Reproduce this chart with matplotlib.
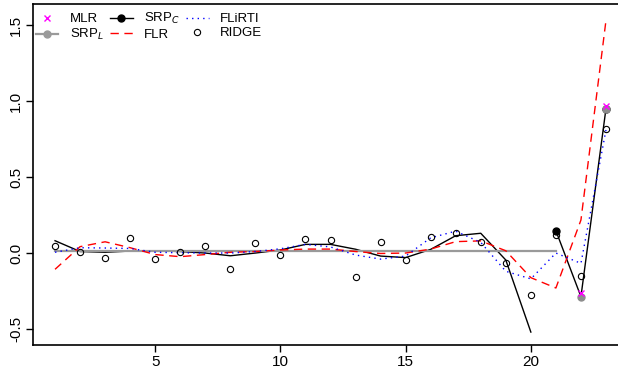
import numpy as np
import matplotlib
matplotlib.use("Agg")
import matplotlib.pyplot as plt

plt.rcParams['font.family'] = ['Liberation Sans', 'DejaVu Sans']

idx = np.arange(1, 24)

# values
mlr_x = [22, 23]
mlr = [-0.26, 0.97]

srpl_line_x = np.arange(1, 22)
srpl_line = [0.012] * 21
srpl_pts_x = [22, 23]
srpl_pts = [-0.287, 0.95]

srpc_a_x = np.arange(1, 21)
srpc_a = [0.081, 0.01, 0.005, 0.013, 0.015, 0.01, 0.0, -0.018, 0.0, 0.02,
          0.057, 0.057, 0.025, -0.02, -0.03, 0.024, 0.114, 0.13, -0.046, -0.52]
srpc_b_x = [21, 22, 23]
srpc_b = [0.147, -0.287, 0.95]

flr = [-0.107, 0.042, 0.074, 0.035, -0.01, -0.024, -0.01, 0.005, 0.01, 0.02,
       0.026, 0.026, 0.01, -0.003, 0.0, 0.026, 0.075, 0.08, 0.015, -0.162,
       -0.23, 0.217, 1.53]

flirti = [0.005, 0.035, 0.033, 0.03, 0.005, 0.002, 0.0, 0.0, 0.01, 0.028,
          0.057, 0.04, -0.013, -0.04, -0.02, 0.1, 0.144, 0.07, -0.12, -0.17,
          0.0, -0.068, 0.81]

ridge = [0.046, 0.007, -0.033, 0.099, -0.039, 0.007, 0.046, -0.105, 0.066, -0.013,
         0.092, 0.086, -0.158, 0.072, -0.046, 0.105, 0.13, 0.072, -0.066, -0.276,
         0.118, -0.151, 0.816]

fig = plt.figure(figsize=(6.18, 3.68), dpi=100)
ax = fig.add_axes([0.0534, 0.0625, 0.9466, 0.9265])

ax.plot(srpc_a_x, srpc_a, color='black', lw=1.0)
ax.plot(srpc_b_x, srpc_b, color='black', lw=1.0)
ax.plot([21, 23], [srpc_b[0], srpc_b[2]], ls='none', marker='o', ms=5, color='black')
ax.plot(srpl_line_x, srpl_line, color='#9a9a9a', lw=1.6)
ax.plot(srpl_pts_x, srpl_pts, ls='none', marker='o', ms=5, color='#8c8c8c')
ax.plot(idx, flr, color='red', lw=1.0, dashes=(6, 4))
ax.plot(idx, flirti, color='blue', lw=1.0, dashes=(1, 3))
ax.plot(idx, ridge, ls='none', marker='o', ms=4.5, mfc='none', mec='black', mew=0.8)
ax.plot(mlr_x, mlr, ls='none', marker='x', ms=5, color='magenta', mew=1.0)

# legend handles
h_mlr, = ax.plot([], [], ls='none', marker='x', ms=5, color='magenta', mew=1.0)
h_srpl, = ax.plot([], [], color='#9a9a9a', lw=1.6, marker='o', ms=5)
h_srpc, = ax.plot([], [], color='black', lw=1.0, marker='o', ms=5)
h_flr, = ax.plot([], [], color='red', lw=1.0, dashes=(6, 4))
h_flirti, = ax.plot([], [], color='blue', lw=1.0, dashes=(1, 3))
h_ridge, = ax.plot([], [], ls='none', marker='o', ms=4.5, mfc='none', mec='black', mew=0.8)
ax.legend([h_mlr, h_srpl, h_srpc, h_flr, h_flirti, h_ridge],
          ['MLR', 'SRP$_L$', 'SRP$_C$', 'FLR', 'FLiRTI', 'RIDGE'],
          ncol=3, loc='upper left', bbox_to_anchor=(0.005, 0.979),
          frameon=False, fontsize=9.5, borderpad=0, borderaxespad=0,
          handlelength=1.7, handletextpad=0.85, columnspacing=0.5,
          labelspacing=0.15)

ax.set_xlim(0.12, 23.48)
ax.set_ylim(-0.605, 1.638)
ax.set_xticks([5, 10, 15, 20])
ax.set_yticks([-0.5, 0.0, 0.5, 1.0, 1.5])
ax.set_yticklabels(['-0.5', '0.0', '0.5', '1.0', '1.5'], rotation=90, va='center')
ax.tick_params(direction='out', length=5, width=1, labelsize=11, pad=2)
ax.spines['right'].set_visible(False)
for s in ['left', 'bottom', 'top']:
    ax.spines[s].set_linewidth(1.2)

fig.savefig('out.png', dpi=100)
